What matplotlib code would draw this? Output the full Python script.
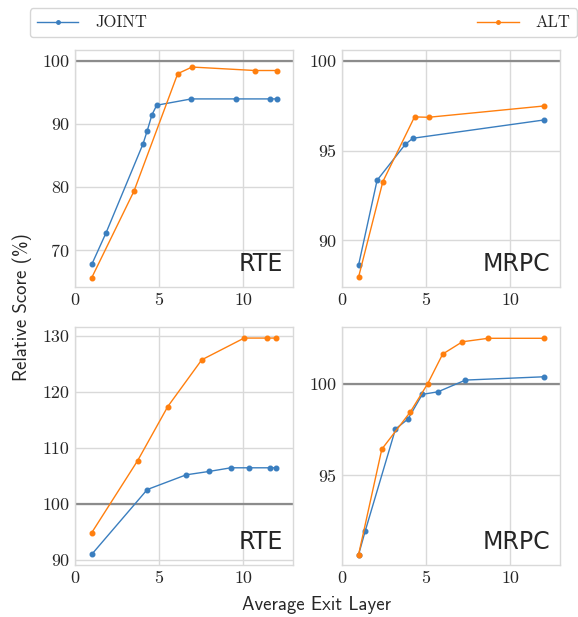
import matplotlib
matplotlib.use("Agg")
import matplotlib.pyplot as plt
from matplotlib.lines import Line2D

# ---- data ----
rte1_joint_x = [1.0, 1.85, 4.05, 4.29, 4.58, 4.86, 6.92, 9.56, 11.6, 12.0]
rte1_joint_y = [67.8, 72.8, 86.9, 88.9, 91.5, 93.0, 94.0, 94.0, 94.0, 94.0]
rte1_alt_x = [1.0, 3.51, 6.11, 6.96, 10.71, 12.0]
rte1_alt_y = [65.7, 79.4, 98.0, 99.05, 98.5, 98.5]

mrpc1_joint_x = [1.0, 2.10, 3.77, 4.22, 12.0]
mrpc1_joint_y = [88.62, 93.35, 95.35, 95.69, 96.71]
mrpc1_alt_x = [1.0, 2.44, 4.32, 5.16, 12.0]
mrpc1_alt_y = [87.95, 93.27, 96.88, 96.86, 97.49]

rte2_joint_x = [1.0, 4.30, 6.61, 7.98, 9.27, 10.38, 11.6, 11.96]
rte2_joint_y = [90.97, 102.56, 105.19, 105.8, 106.45, 106.45, 106.45, 106.45]
rte2_alt_x = [1.0, 3.73, 5.52, 7.54, 10.06, 11.43, 11.96]
rte2_alt_y = [94.86, 107.75, 117.42, 125.78, 129.67, 129.67, 129.67]

mrpc2_joint_x = [1.0, 1.40, 3.19, 3.93, 4.78, 5.71, 7.34, 12.0]
mrpc2_joint_y = [90.67, 91.98, 97.53, 98.07, 99.42, 99.56, 100.2, 100.38]
mrpc2_alt_x = [1.0, 2.38, 4.07, 5.10, 5.99, 7.16, 8.69, 12.0]
mrpc2_alt_y = [90.67, 96.43, 98.46, 100.0, 101.62, 102.29, 102.48, 102.48]

task_names = ["RTE", "MRPC", "RTE", "MRPC"]
series_names = ["JOINT", "ALT"]
ylims = [(64.2, 101.75), (87.4, 100.61), (89.05, 131.6), (90.11, 103.08)]
yticks = [[70, 80, 90, 100], [90, 95, 100], [90, 100, 110, 120, 130], [95, 100]]
xticks = [0, 5, 10]

BLUE = "#3a7ebf"
ORANGE = "#ff7f0e"
GRID = "#d9d9d9"
TEXT = "#262626"

W, H = 578, 617
fig = plt.figure(figsize=(W / 100, H / 100), dpi=100)

def px_axes(l, t, r, b):
    return fig.add_axes([l / W, 1 - b / H, (r - l) / W, (b - t) / H])

axes = [
    px_axes(75, 50, 292.7, 287),
    px_axes(341.7, 50, 560, 287),
    px_axes(75, 327.3, 292.7, 565),
    px_axes(341.7, 327.3, 560, 565),
]

data = [
    (rte1_joint_x, rte1_joint_y, rte1_alt_x, rte1_alt_y),
    (mrpc1_joint_x, mrpc1_joint_y, mrpc1_alt_x, mrpc1_alt_y),
    (rte2_joint_x, rte2_joint_y, rte2_alt_x, rte2_alt_y),
    (mrpc2_joint_x, mrpc2_joint_y, mrpc2_alt_x, mrpc2_alt_y),
]

for i, ax in enumerate(axes):
    jx, jy, axx, ayy = data[i]
    ax.set_facecolor("white")
    ax.grid(True, color=GRID, linewidth=1.0, zorder=0)
    ax.set_axisbelow(True)
    for s in ax.spines.values():
        s.set_color(GRID)
        s.set_linewidth(1.0)
    ax.axhline(100, color="#8c8c8c", linewidth=1.6, zorder=1)
    ax.plot(jx, jy, color=BLUE, marker="o", markersize=3.3, linewidth=1.0, zorder=3)
    ax.plot(axx, ayy, color=ORANGE, marker="o", markersize=3.3, linewidth=1.0, zorder=3)
    ax.set_xlim(0, 12.95)
    ax.set_ylim(*ylims[i])
    ax.set_xticks(xticks)
    ax.set_yticks(yticks[i])
    ax.tick_params(length=0, pad=4, labelsize=13, colors=TEXT)
    for lab in ax.get_xticklabels() + ax.get_yticklabels():
        lab.set_fontfamily("cmr10")
    ax.text(0.955, 0.045, task_names[i], transform=ax.transAxes, ha="right",
            va="bottom", fontsize=17, color=TEXT, family="DejaVu Sans")

fig.text(22 / W, 1 - 307 / H, "Relative Score (%)", rotation=90, ha="center",
         va="center", fontsize=13.5, color=TEXT, family="cmss10")
fig.text(317 / W, 1 - 605 / H, "Average Exit Layer", ha="center", va="center",
         fontsize=13.5, color=TEXT, family="cmss10")

handles = [Line2D([], [], color=BLUE, marker="o", markersize=2.5, linewidth=1.0),
           Line2D([], [], color=ORANGE, marker="o", markersize=2.5, linewidth=1.0)]
leg = fig.legend(handles, series_names, loc="lower left",
                 bbox_to_anchor=(30 / W, 1 - 37 / H, (577 - 30) / W, 33 / H),
                 mode="expand", ncol=2, frameon=True,
                 prop={"family": "cmr10", "size": 12}, borderaxespad=0,
                 handlelength=2.5, handletextpad=1.0)
leg.get_frame().set_edgecolor("#cccccc")
leg.get_frame().set_linewidth(1.0)
for t in leg.get_texts():
    t.set_color(TEXT)

fig.savefig("out.png", dpi=100)
